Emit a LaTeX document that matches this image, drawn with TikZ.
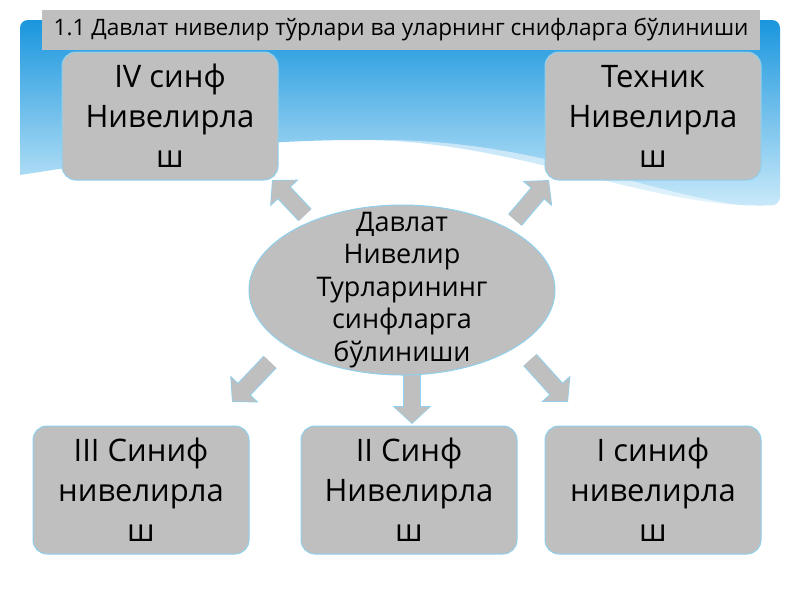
\documentclass[tikz,border=0pt]{standalone}
\usepackage{fontspec}
\setmainfont{Open Sans}
\usetikzlibrary{arrows.meta,calc,shapes.geometric}
\definecolor{bx}{HTML}{BFBFBF}
\definecolor{edge}{HTML}{8FD0EE}
\definecolor{sky}{HTML}{1A96DE}
\definecolor{skyl}{HTML}{CDEBFA}
\begin{document}
\begin{tikzpicture}[x=1pt,y=-1pt,
  box/.style={draw=edge,line width=1pt,fill=bx,rounded corners=14pt,minimum width=216pt,minimum height=128pt,align=center,font=\fontsize{31}{40}\selectfont,inner sep=2pt},
  arr/.style={line width=16pt,draw=bx,-{Triangle[width=34pt,length=16pt]}},
  arro/.style={line width=18pt,draw=edge,-{Triangle[width=38pt,length=18pt]}}]
\useasboundingbox (0,0) rectangle (800,600);
\fill[white] (0,0) rectangle (800,600);
\shade[top color=sky,bottom color=skyl,rounded corners=8pt]
  (20,175) -- (20,20) -- (780,20) -- (780,205) [sharp corners] .. controls (650,210) and (520,140) .. (360,140) .. controls (220,140) and (120,160) .. (20,175);
\fill[white,opacity=0.5] (20,178) .. controls (150,150) and (300,140) .. (380,140) .. controls (550,140) and (650,200) .. (780,210) -- (780,220) .. controls (640,205) and (540,155) .. (380,150) .. controls (280,148) and (150,160) .. (20,185) -- cycle;
\node[fill=bx,minimum width=718pt,minimum height=40pt,inner sep=0pt,font=\fontsize{22.6}{26}\selectfont] (title) at (401,30) {1.1 Давлат нивелир тўрлари ва уларнинг снифларга бўлиниши};
\node[box] (b4) at (170,116) {IV синф\\Нивелирла\\ш};
\node[box] (bt) at (653,116) {Техник\\Нивелирла\\ш};
\node[box] (b3) at (141,490) {III Синиф\\нивелирла\\ш};
\node[box] (b2) at (409,490) {II Синф\\Нивелирла\\ш};
\node[box] (b1) at (653,490) {I синиф\\нивелирла\\ш};
\coordinate (s4) at (305,215); \coordinate (e4) at (272,180);
\coordinate (st) at (515,220); \coordinate (et) at (549,180);
\coordinate (s3) at (270,362); \coordinate (e3) at (232,402);
\coordinate (s2) at (412,372); \coordinate (e2) at (412,424);
\coordinate (s1) at (530,360); \coordinate (e1) at (568,402);
\foreach \a/\b in {s4/e4,st/et,s3/e3,s2/e2,s1/e1}{
  \draw[arro] (\a) -- (\b);
  \draw[arr] (\a) -- ($(\b)!1pt!(\a)$);}
\node[draw=edge,line width=1pt,fill=bx,ellipse,minimum width=306pt,minimum height=170pt,inner sep=0pt] (c) at (402,290) {};
\node[align=center,font=\fontsize{27}{32.5}\selectfont,inner sep=0pt] (ct) at (c.center) {Давлат\\Нивелир\\Турларининг\\синфларга\\бўлиниши};
\end{tikzpicture}
\end{document}
